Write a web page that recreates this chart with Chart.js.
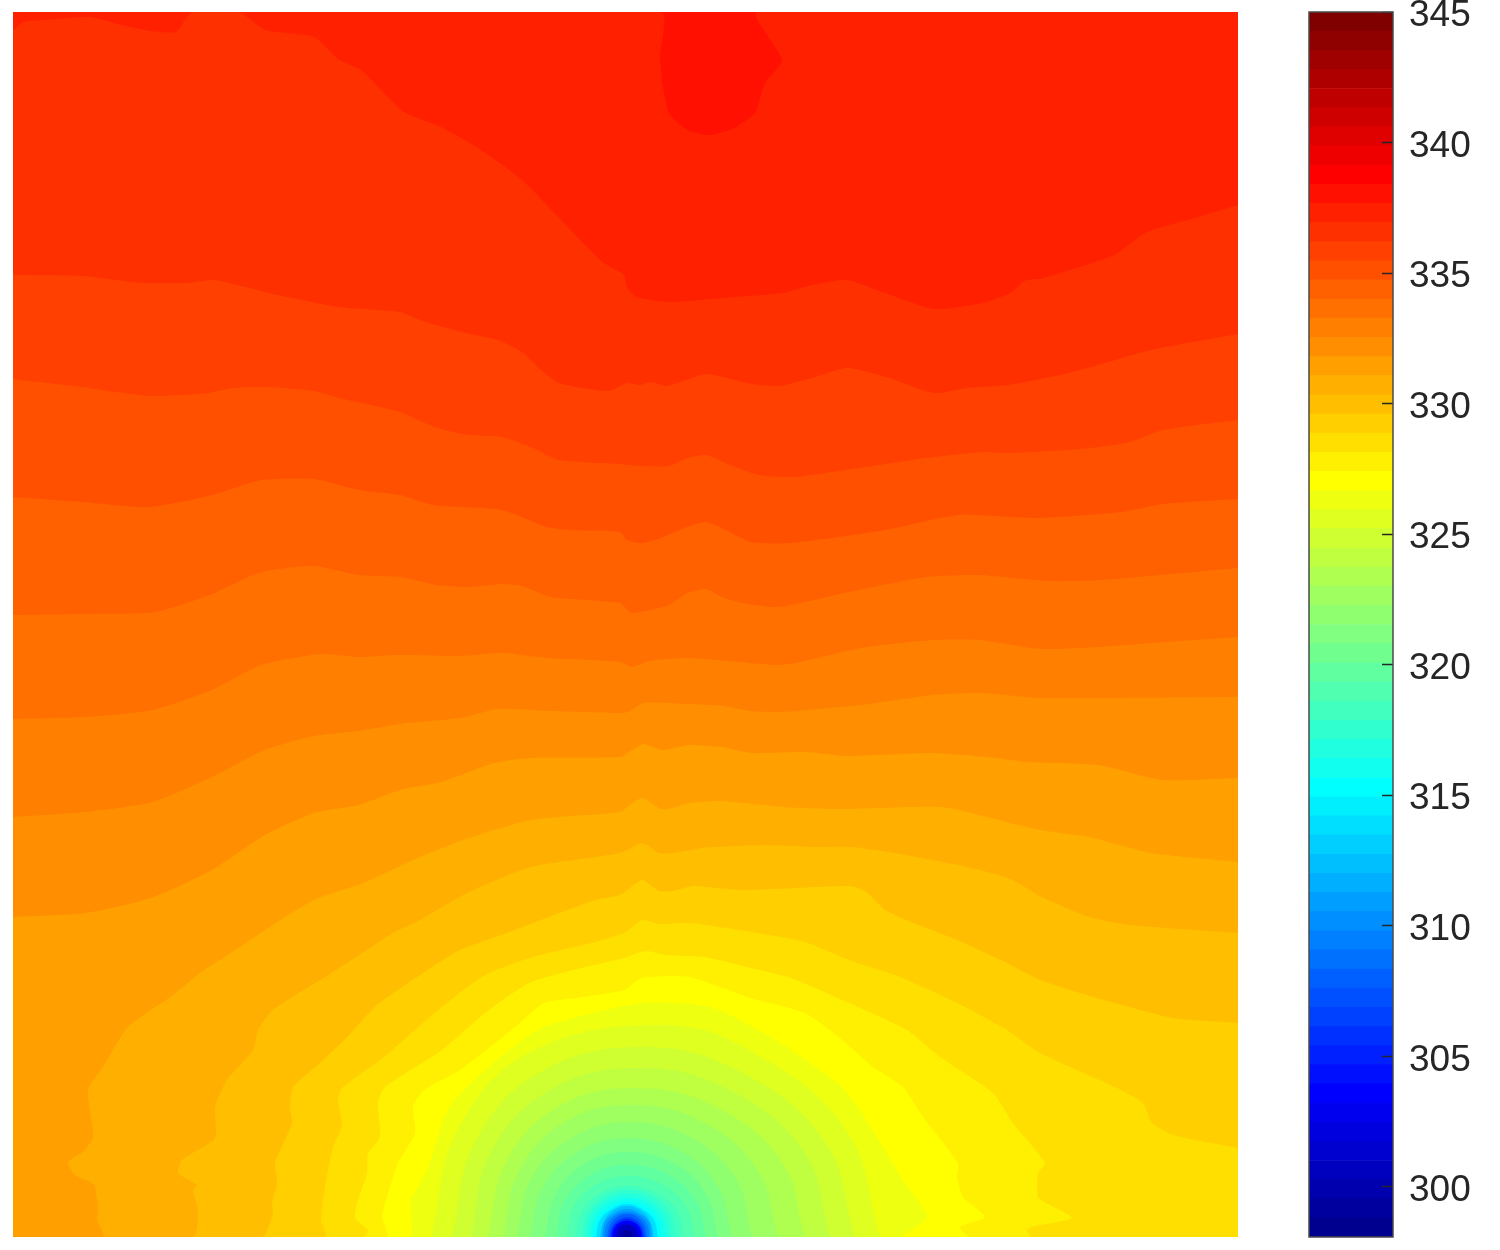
<!DOCTYPE html>
<html>
<head>
<meta charset="utf-8">
<title>Contour map</title>
<script src="https://cdn.jsdelivr.net/npm/chart.js@4/dist/chart.umd.min.js"></script>
<style>
  html, body { margin: 0; background: #fff; }
  canvas { position: absolute; }
  #mapChart { left: 13px; top: 12px; }
  #barChart { left: 1300px; top: 0; }
</style>
</head>
<body>
<canvas id="mapChart" width="1225" height="1225"></canvas>
<canvas id="barChart" width="200" height="1250"></canvas>
<script>
// jet colormap, one entry per colorbar band (level 1 is the lowest)
const jetColors = [
  '#00008f','#00009f','#0000af','#0000bf','#0000cf','#0000df','#0000ef','#0000ff',
  '#0010ff','#0020ff','#0030ff','#0040ff','#0050ff','#0060ff','#0070ff','#0080ff',
  '#008fff','#009fff','#00afff','#00bfff','#00cfff','#00dfff','#00efff','#00ffff',
  '#10ffef','#20ffdf','#30ffcf','#40ffbf','#50ffaf','#60ff9f','#70ff8f','#80ff80',
  '#8fff70','#9fff60','#afff50','#bfff40','#cfff30','#dfff20','#efff10','#ffff00',
  '#ffef00','#ffdf00','#ffcf00','#ffbf00','#ffaf00','#ff9f00','#ff8f00','#ff8000',
  '#ff7000','#ff6000','#ff5000','#ff4000','#ff3000','#ff2000','#ff1000','#ff0000',
  '#ef0000','#df0000','#cf0000','#bf0000','#af0000','#9f0000','#8f0000','#800000'
];

// colorbar band edges and labelled values
const levelEdges = [
  298.08,298.81,299.55,300.28,301.01,301.75,302.48,303.21,303.95,304.68,305.41,306.14,306.88,
  307.61,308.34,309.08,309.81,310.54,311.28,312.01,312.74,313.48,314.21,314.94,315.68,316.41,
  317.14,317.87,318.61,319.34,320.07,320.81,321.54,322.27,323.01,323.74,324.47,325.21,325.94,
  326.67,327.41,328.14,328.87,329.60,330.34,331.07,331.80,332.54,333.27,334.00,334.74,335.47,
  336.20,336.94,337.67,338.40,339.14,339.87,340.60,341.33,342.07,342.80,343.53,344.27,345.00
];
const colorbarTicks = [300,305,310,315,320,325,330,335,340,345];

// contour lines as [x, depth], area range 0..1225 on both axes
const contour55 = [[0,0],[1225,0]];
const contour54 = [[0,0],[648,0],[647,45],[650,75],[656,101],[674,118],[697,123],[721,116],[742,101],[752,71],[769,48],[744,0],[1225,0]];
const contour53 = [[0,18],[11,10],[44,7],[77,5],[109,13],[138,19],[163,20],[179,0],[226,0],[252,18],[301,25],[326,48],[348,58],[391,100],[428,115],[465,136],[509,168],[575,236],[591,251],[611,263],[614,275],[623,285],[658,290],[709,286],[770,281],[799,273],[834,268],[872,281],[921,297],[970,291],[999,280],[1011,269],[1031,266],[1101,243],[1134,220],[1182,206],[1225,193]];
const contour52 = [[0,263],[69,264],[130,271],[175,271],[201,268],[265,283],[326,295],[387,300],[407,308],[448,320],[485,328],[509,340],[526,356],[546,371],[595,379],[614,371],[627,373],[638,370],[654,374],[693,362],[734,371],[766,374],[799,366],[834,356],[876,366],[921,381],[954,376],[995,373],[1056,361],[1138,338],[1225,322]];
const contour51 = [[0,367],[69,375],[136,384],[195,381],[220,376],[252,375],[301,379],[326,386],[387,400],[424,416],[456,423],[489,425],[518,435],[546,448],[607,452],[627,454],[656,454],[674,446],[693,443],[717,453],[746,463],[782,465],[852,455],[913,446],[970,440],[995,441],[1068,437],[1117,430],[1150,418],[1225,408]];
const contour50 = [[0,485],[69,490],[136,495],[199,483],[248,468],[301,467],[346,478],[387,483],[420,493],[489,498],[534,515],[558,518],[607,520],[614,528],[629,531],[648,526],[674,515],[693,510],[713,518],[738,530],[778,531],[872,518],[946,503],[1023,506],[1109,500],[1150,492],[1225,487]];
const contour49 = [[0,603],[73,602],[142,600],[199,582],[248,560],[301,554],[346,563],[387,565],[424,573],[456,575],[489,572],[509,574],[538,585],[607,591],[619,601],[656,593],[674,581],[693,577],[709,585],[729,591],[766,595],[836,580],[913,565],[966,563],[1036,569],[1089,568],[1225,556]];
const contour48 = [[0,707],[73,705],[140,698],[199,678],[248,653],[309,642],[346,645],[387,643],[448,644],[489,641],[534,646],[607,650],[619,655],[636,649],[676,646],[762,653],[783,651],[848,636],[921,628],[966,628],[1027,637],[1085,635],[1225,625]];
const contour47 = [[0,805],[73,800],[140,790],[199,765],[252,738],[301,724],[346,719],[387,712],[448,706],[485,697],[534,699],[607,701],[615,700],[631,691],[676,692],[709,694],[738,699],[770,700],[848,693],[921,683],[966,681],[1027,686],[1225,685]];
const contour46 = [[0,905],[73,901],[138,886],[199,858],[252,823],[301,801],[346,793],[387,778],[428,770],[481,751],[518,746],[607,745],[619,738],[631,732],[650,738],[676,733],[709,735],[738,741],[791,740],[836,744],[917,741],[974,745],[1015,750],[1085,753],[1150,768],[1225,766]];
const contour45 = [[0,1225],[90,1225],[84,1208],[85,1198],[82,1175],[77,1170],[62,1163],[55,1150],[70,1140],[80,1125],[75,1078],[90,1055],[115,1015],[160,983],[187,961],[227,935],[252,918],[301,888],[350,871],[407,845],[456,826],[518,808],[607,800],[617,793],[629,786],[648,797],[660,796],[676,791],[709,789],[770,795],[827,797],[929,795],[974,805],[1027,818],[1076,825],[1138,841],[1225,850]];
const contour44 = [[0,1225],[180,1225],[185,1198],[180,1178],[184,1173],[165,1161],[169,1148],[202,1126],[202,1095],[214,1068],[240,1038],[245,1018],[260,998],[304,970],[334,951],[380,921],[407,908],[456,880],[518,855],[607,841],[629,831],[646,841],[660,841],[689,836],[750,833],[803,835],[840,835],[893,843],[954,855],[995,866],[1031,886],[1076,905],[1117,913],[1225,921]];
const contour43 = [[0,1225],[249,1225],[260,1201],[259,1191],[264,1171],[262,1151],[279,1111],[277,1095],[280,1075],[307,1051],[334,1025],[364,993],[407,963],[447,938],[502,918],[582,888],[607,883],[629,868],[646,879],[660,879],[680,874],[729,878],[836,874],[852,879],[872,898],[893,908],[944,928],[994,951],[1027,968],[1084,986],[1160,1006],[1225,1011]];
const contour42 = [[0,1225],[312,1225],[308,1208],[312,1175],[320,1135],[329,1113],[325,1088],[329,1076],[371,1045],[425,998],[472,963],[520,945],[582,930],[611,921],[629,908],[647,912],[676,911],[738,920],[792,930],[836,948],[887,965],[944,991],[994,1018],[1027,1041],[1104,1076],[1130,1091],[1139,1111],[1160,1123],[1225,1136]];
const contour41 = [[0,1225],[350,1225],[355,1218],[342,1206],[345,1188],[354,1161],[355,1141],[367,1125],[365,1091],[372,1075],[429,1038],[472,1001],[516,971],[560,958],[611,946],[632,939],[654,943],[691,945],[738,956],[778,966],[836,991],[894,1018],[927,1045],[980,1081],[1000,1111],[1032,1151],[1025,1161],[1025,1185],[1037,1193],[1059,1206],[1019,1215],[1014,1218],[1019,1225],[1225,1225]];
const contour40 = [[0,1225],[374,1225],[369,1205],[376,1178],[385,1151],[402,1121],[400,1095],[411,1078],[447,1058],[502,1015],[531,991],[563,986],[611,978],[629,966],[676,965],[738,986],[792,1001],[827,1026],[860,1055],[890,1075],[910,1105],[945,1151],[944,1165],[950,1185],[972,1205],[947,1215],[957,1225],[1225,1225]];
const contour39 = [[0,1225],[396,1225],[398,1188],[414,1158],[436,1095],[480,1051],[531,1015],[629,991],[698,995],[763,1028],[827,1073],[847,1098],[870,1135],[890,1168],[914,1205],[890,1225],[1225,1225]];

// rings around the low spot at the bottom edge
const ring38 = [[418,1225],[444,1119],[516,1041],[650,1013],[741,1041],[834,1119],[867,1225]];
const ring37 = [[439,1225],[462,1130],[527,1060],[630,1035],[728,1060],[812,1130],[842,1225]];
const ring36 = [[458,1225],[478,1140],[537,1078],[625,1056],[716,1078],[791,1140],[817,1225]];
const ring35 = [[475,1225],[493,1150],[545,1095],[620,1076],[703,1095],[769,1150],[792,1225]];
const ring34 = [[490,1225],[506,1159],[552,1110],[618,1093],[690,1110],[745,1159],[765,1225]];
const ring33 = [[504,1225],[518,1167],[560,1125],[616,1110],[677,1125],[723,1167],[739,1225]];
const ring32 = [[517,1225],[530,1175],[566,1139],[615,1126],[667,1139],[705,1175],[719,1225]];
const ring31 = [[532,1225],[543,1182],[573,1151],[615,1140],[660,1151],[693,1182],[705,1225]];
const ring30 = [[543,1225],[552,1189],[579,1162],[615,1153],[654,1162],[683,1189],[693,1225]];
const ring29 = [[553,1225],[561,1194],[584,1172],[615,1164],[648,1172],[673,1194],[682,1225]];
const ring28 = [[562,1225],[569,1199],[588,1181],[615,1174],[643,1181],[664,1199],[671,1225]];
const ring27 = [[569,1225],[575,1201],[592,1184],[615,1178],[639,1184],[657,1201],[663,1225]];
const ring26 = [[573,1225],[578,1203],[594,1188],[615,1182],[636,1188],[652,1203],[657,1225]];
const ring25 = [[577,1225],[582,1205],[596,1191],[615,1186],[634,1191],[648,1205],[653,1225]];
const ring24 = [[580,1225],[585,1207],[598,1195],[614,1190],[631,1195],[644,1207],[648,1225]];
const ring22 = [[583,1225],[587,1208],[599,1197],[614,1192],[629,1197],[641,1208],[645,1225]];
const ring20 = [[587,1225],[591,1209],[601,1198],[614,1194],[627,1198],[637,1209],[641,1225]];
const ring18 = [[589,1225],[592,1210],[602,1201],[614,1197],[626,1201],[636,1210],[639,1225]];
const ring16 = [[591,1225],[594,1212],[603,1203],[614,1200],[625,1203],[634,1212],[637,1225]];
const ring14 = [[594,1225],[597,1213],[604,1205],[614,1202],[624,1205],[631,1213],[634,1225]];
const ring12 = [[596,1225],[599,1215],[605,1208],[614,1205],[623,1208],[629,1215],[632,1225]];
const ring10 = [[598,1225],[600,1216],[606,1210],[614,1207],[622,1210],[628,1216],[630,1225]];
const ring8 = [[599,1225],[601,1217],[606,1211],[614,1209],[622,1211],[627,1217],[629,1225]];
const ring6 = [[601,1225],[603,1218],[607,1213],[614,1211],[621,1213],[625,1218],[627,1225]];
const ring4 = [[603,1225],[605,1219],[608,1215],[614,1213],[620,1215],[623,1219],[625,1225]];
const ring2 = [[608,1225],[609,1222],[611,1219],[614,1218],[617,1219],[619,1222],[620,1225]];

// first dataset is painted last, so the lowest level goes first
const rings = [
  [2,ring2],[4,ring4],[6,ring6],[8,ring8],[10,ring10],[12,ring12],[14,ring14],[16,ring16],[18,ring18],
  [20,ring20],[22,ring22],[24,ring24],[25,ring25],[26,ring26],[27,ring27],[28,ring28],[29,ring29],
  [30,ring30],[31,ring31],[32,ring32],[33,ring33],[34,ring34],[35,ring35],[36,ring36],[37,ring37],[38,ring38]
];
const contours = [
  [39,contour39],[40,contour40],[41,contour41],[42,contour42],[43,contour43],[44,contour44],[45,contour45],
  [46,contour46],[47,contour47],[48,contour48],[49,contour49],[50,contour50],[51,contour51],[52,contour52],
  [53,contour53],[54,contour54],[55,contour55]
];

function fillDataset(level, points, tension) {
  return {
    data: points.map(p => ({ x: p[0], y: p[1] })),
    showLine: true,
    fill: 'start',
    tension: tension,
    backgroundColor: jetColors[level - 1],
    borderWidth: 0,
    pointRadius: 0
  };
}

new Chart(document.getElementById('mapChart'), {
  type: 'scatter',
  data: {
    datasets: [
      ...rings.map(r => fillDataset(r[0], r[1], 0.4)),
      ...contours.map(c => fillDataset(c[0], c[1], 0.2))
    ]
  },
  options: {
    responsive: false,
    animation: false,
    events: [],
    layout: { padding: 0 },
    plugins: { legend: { display: false }, tooltip: { enabled: false } },
    scales: {
      x: { type: 'linear', min: 0, max: 1225, display: false },
      y: { type: 'linear', min: 0, max: 1225, reverse: true, display: false }
    }
  }
});

// outline of the colorbar
const barOutline = {
  id: 'barOutline',
  afterDraw(chart) {
    const { ctx, chartArea: a } = chart;
    ctx.save();
    ctx.strokeStyle = '#4a4a4a';
    ctx.lineWidth = 1.5;
    ctx.strokeRect(a.left, a.top, a.right - a.left, a.bottom - a.top);
    ctx.restore();
  }
};

new Chart(document.getElementById('barChart'), {
  type: 'bar',
  data: {
    labels: ['level'],
    datasets: jetColors.map((color, i) => ({
      data: [[levelEdges[i], levelEdges[i + 1]]],
      backgroundColor: color,
      borderWidth: 0,
      grouped: false,
      barPercentage: 1,
      categoryPercentage: 1
    }))
  },
  options: {
    responsive: false,
    animation: false,
    events: [],
    layout: { padding: { top: 12, bottom: 13, left: 9, right: 0 } },
    plugins: { legend: { display: false }, tooltip: { enabled: false } },
    scales: {
      x: { display: false },
      y: {
        position: 'right',
        min: 298.08,
        max: 345,
        afterBuildTicks: scale => { scale.ticks = colorbarTicks.map(v => ({ value: v })); },
        // long labels must not push the bar in from the top and bottom
        afterFit: scale => { scale.width = 107; scale.paddingTop = 0; scale.paddingBottom = 0; },
        border: { display: false },
        // z above 0 so the inward ticks sit on top of the bars
        grid: { z: 1, drawOnChartArea: false, tickLength: -11, tickColor: '#262626', tickWidth: 1.5 },
        ticks: {
          autoSkip: false,
          maxRotation: 0,
          padding: 27,
          labelOffset: 4,
          color: '#262626',
          font: { family: '"Liberation Sans", Arial, sans-serif', size: 37 }
        }
      }
    }
  },
  plugins: [barOutline]
});
</script>
</body>
</html>
